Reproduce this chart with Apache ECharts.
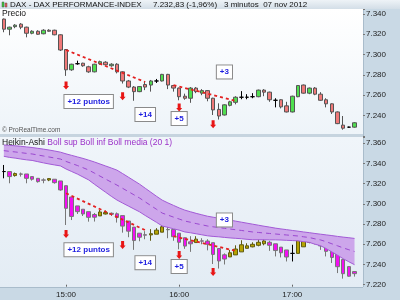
<!DOCTYPE html>
<html><head><meta charset="utf-8">
<script src="https://cdn.jsdelivr.net/npm/echarts@6/dist/echarts.min.js"></script>
<style>html,body{margin:0;padding:0;background:#fff}#c{width:400px;height:300px}</style>
</head><body><div id="c"></div><script>
const times = ['14:27','14:30','14:33','14:36','14:39','14:42','14:45','14:48','14:51','14:54','14:57','15:00','15:03','15:06','15:09','15:12','15:15','15:18','15:21','15:24','15:27','15:30','15:33','15:36','15:39','15:42','15:45','15:48','15:51','15:54','15:57','16:00','16:03','16:06','16:09','16:12','16:15','16:18','16:21','16:24','16:27','16:30','16:33','16:36','16:39','16:42','16:45','16:48','16:51','16:54','16:57','17:00','17:03','17:06','17:09','17:12','17:15','17:18','17:21','17:24','17:27','17:30','17:33','17:36'];

const priceOpen  = [7335,7325,7327.5,7330,7327,7321,7323,7320.5,7324,7324,7319.5,7305,7285,7291,7291.5,7288,7283,7291,7292.5,7289,7290.5,7283,7274,7268,7263.5,7270.5,7270,7274,7274,7280.5,7269.5,7267,7259,7257,7267,7262,7264.5,7257,7246,7240.5,7250,7253,7258,7258,7258.5,7258.5,7265,7263,7255,7255.5,7249.5,7243.5,7258.5,7270,7262,7267,7261,7255.5,7251.5,7243.5,7230.5,7228.5,7228.5];
const priceClose = [7325,7327,7329,7327,7321,7323,7320,7324,7323,7319.5,7304.5,7285,7290.5,7291,7289,7283,7290.5,7293,7290,7290.5,7283,7274,7268,7263.5,7268.5,7268,7274,7274,7280.5,7270,7267,7258.5,7257,7267,7263.5,7264.5,7257,7245.5,7239.5,7250.5,7253.5,7258,7258,7258,7258.5,7265,7263,7255.5,7255,7248.5,7243.5,7259,7269.5,7262,7267,7261,7255,7251.5,7243.5,7232,7227.5,7228.5,7232.83];
const priceLow   = [7322,7319,7326,7325,7317,7320,7319.5,7320,7322.5,7319,7303.5,7279,7284,7290,7288,7282,7282.5,7290,7289.5,7288,7281.5,7271.5,7267,7254.5,7263,7265,7263.5,7272,7273.5,7266,7263.5,7255,7255.5,7252.5,7262,7260,7254,7240.5,7236,7240,7249,7251,7256,7256,7257,7258,7259,7253.5,7248,7247,7243,7243,7258,7261.5,7261,7260,7254.5,7248,7241.5,7231.5,7226,7228,7228];
const priceHigh  = [7335.5,7327.5,7330,7331,7327.5,7324,7324,7325,7325,7324.5,7320,7305.5,7291,7294,7292,7289,7291,7294,7293.5,7291.5,7291.5,7283.5,7275,7269,7269,7273,7275,7276,7281,7281,7270,7267.5,7261.5,7268,7268,7266,7265,7257.5,7252,7251,7254.5,7259,7264,7261,7262,7265.5,7266,7263.5,7257,7256,7253.5,7259.5,7270,7270.5,7267.5,7268,7263,7257,7252,7244,7239.5,7229,7233.5];

const haOpen  = [7332,7332,7328,7329.6,7329.6,7327,7325.3,7323.7,7323.6,7324.4,7322.7,7318,7306.8,7298,7294.7,7292.3,7289.5,7288.1,7290,7290.7,7290.2,7288.4,7283,7277,7271,7269.5,7269.3,7270,7272,7274.7,7274.6,7271,7266.5,7262.4,7261.7,7263.4,7263.2,7261.6,7255.8,7249.6,7247.5,7249.5,7252.5,7256,7257.5,7259,7260.5,7262,7260.5,7257.2,7254.4,7251,7251,7257.5,7262,7263.1,7263.5,7261,7257,7252,7244.9,7237.9,7233];
const haClose = [7332,7327,7330,7329.4,7325.3,7324.4,7322,7323.5,7325,7321,7313.8,7295.6,7287.6,7292.3,7290,7286.7,7286.8,7292,7291.4,7289.8,7286.6,7278,7273,7263.7,7267,7269,7270.5,7274,7277.3,7274.4,7267.5,7262,7258.2,7260.5,7265.1,7263.1,7260,7250,7243.5,7245.4,7251.6,7255.3,7259.5,7258.5,7260,7262,7263.3,7259,7253.8,7251.6,7247.4,7251,7264,7266,7264.4,7264,7258.4,7253,7247,7237.8,7230.9,7228.4,7230.93];
const haLow   = [7325.3,7320.4,7327,7327,7320.4,7323,7321,7320.4,7322.5,7320,7313,7279.1,7284,7290,7288,7282.4,7282.5,7288.1,7289.5,7288,7281.5,7271.5,7267,7254.5,7263,7265,7263.5,7270,7272,7266,7263.5,7255,7255.5,7252.5,7261.7,7260,7254,7240.5,7236,7240,7247.5,7249.5,7252.5,7256,7257,7258,7259,7253.5,7248,7247,7243,7243,7251,7257.5,7261,7260,7254.5,7248,7241.5,7231.5,7226,7228,7228];
const haHigh  = [7338.5,7332,7331,7331,7329.6,7327,7325.3,7325.3,7325.5,7324.4,7322.7,7318,7306.8,7298,7294.7,7292.3,7291,7294,7293.5,7291.5,7291.5,7288.4,7283,7277,7271,7273,7275,7276,7281,7281,7274.6,7271,7266.5,7268,7268,7266,7265,7261.6,7255.8,7251,7254.5,7259,7264,7261,7262,7265.5,7266,7263.5,7260.5,7257.2,7254.4,7259.5,7270,7270.5,7267.5,7268,7263.5,7261,7257,7252,7244.9,7237.9,7233.5];

const bollUpper = [7358.3,7358,7357.5,7357,7356.4,7355.8,7355,7354.2,7353.3,7352.3,7351.2,7349.5,7348,7346.5,7345,7343.3,7341.5,7339.5,7337.5,7335.5,7333.4,7330,7326.5,7323,7319.5,7315.5,7311.5,7307.5,7303.7,7301,7298.5,7296,7293.8,7292.2,7290.6,7289.2,7287.8,7286.8,7285.8,7284.8,7283.9,7282.9,7281.9,7280.9,7279.9,7278.9,7277.9,7277,7276,7275.2,7274.5,7273.7,7273,7272.2,7271.5,7270.7,7270,7269.3,7268.6,7267.8,7267.1,7266.5,7265.8];
const bollMid   = [7352.7,7352,7351.4,7350.7,7350,7349.4,7348.4,7347.4,7346.4,7345.4,7344.4,7342,7340,7338,7335.8,7333.5,7330.5,7327.5,7324.5,7321.5,7318.6,7315.4,7312.2,7309,7305.8,7302,7298.3,7294.6,7290.9,7288.9,7286.9,7285,7283,7281.8,7280.5,7279.3,7278.1,7277.3,7276.6,7275.8,7275.1,7274.4,7273.7,7272.9,7272.2,7271.7,7271.2,7270.7,7270.2,7269.7,7269.2,7268.7,7268.2,7267.4,7266.7,7265.4,7264.3,7262.5,7260.5,7258.5,7256.4,7254.6,7252.8];
const bollLower = [7347.1,7346,7345.3,7344.4,7343.6,7343,7341.8,7340.6,7339.5,7338.5,7337.6,7334.5,7332,7329.5,7326.6,7323.7,7319.5,7315.5,7311.5,7307.5,7303.8,7300.8,7297.9,7295,7292.1,7288.5,7285.1,7281.7,7278.1,7276.8,7275.3,7274,7272.2,7271.4,7270.4,7269.4,7268.4,7267.8,7267.4,7266.8,7266.3,7265.9,7265.5,7264.9,7264.5,7264.5,7264.5,7264.4,7264.4,7264.2,7263.9,7263.7,7263.4,7262.6,7261.9,7260.1,7258.6,7255.7,7252.4,7249.2,7245.7,7242.7,7239.8];

const topLines = [[11,7304.5,25,7273],[30,7270,41,7254.3]];
const botLines = [[11,7310.5,25,7274],[30,7268,41,7253.5]];
const topArrows = [[11,7269.6],[21,7258.9],[31,7247.9],[37,7231.4]];
const botArrows = [[11,7270.2],[21,7259.3],[31,7249.4],[37,7232.6]];
const noteTexts = ['+12 puntos','+14','+5','+3'];
const topNotes = [[15,7253.8],[25,7241.0],[31,7237.0],[39,7282.9]];
const botNotes = [[15,7254.7],[25,7241.8],[31,7238.0],[39,7284.1]];

const F = '"Liberation Sans", Arial, sans-serif';
const euro = (v, d) => { const p = v.toFixed(d).split('.'); return p[0].slice(0,-3) + '.' + p[0].slice(-3) + (p[1] ? ',' + p[1] : ''); };
const ohlc = (o,c,l,h) => o.map((v,i) => [v, c[i], l[i], h[i]]);
const arrowPath = 'path://M2,0 L6,0 L6,5 L8,5 L4,9 L0,5 L2,5 Z';

function marks(lines, arrows, notes) {
  return {
    markLine: { silent: true, symbol: 'none', animation: false,
      data: lines.map(l => [{coord:[l[0], l[1]]}, {coord:[l[2], l[3]]}]),
      lineStyle: {color:'#e32020', width:1.8, type:[3,3]}, label:{show:false} },
    markPoint: { silent: true, animation: false,
      data: arrows.map(a => ({coord:a, symbol: arrowPath, symbolSize:[6,8], itemStyle:{color:'#e81515'}, label:{show:false}}))
        .concat(notes.map((n,k) => ({coord:n, symbol:'rect', symbolSize:1, itemStyle:{color:'rgba(0,0,0,0)'},
          label:{show:true, position:'inside', formatter: noteTexts[k], color:'#1f1fe0', fontWeight:'bold', fontSize:8, fontFamily:F,
            backgroundColor:'#fff', borderColor:'#8a8a8a', borderWidth:1, padding:[3,3,2,3]}})))
    }
  };
}

function tag(v, text, bg, fg, border, off) {
  return { yAxis: v, lineStyle:{opacity:0},
    label:{show:true, position:'end', distance:2, formatter:text, backgroundColor:bg, color:fg, borderColor:border, borderWidth: border ? 1 : 0,
      padding:[1,2,0,2], fontSize:8, fontFamily:F, offset:[0, off || 0]} };
}

const chart = echarts.init(document.getElementById('c'));
const tm = marks(topLines, topArrows, topNotes);
const bm = marks(botLines, botArrows, botNotes);
tm.markLine.data.push(tag(priceClose[62], euro(priceClose[62],2), '#f6d21c', '#111', null));
bm.markLine.data.push(tag(bollUpper[62], euro(bollUpper[62],1), '#fff', '#8a2fc6', '#a070d0'));
bm.markLine.data.push(tag(bollMid[62], euro(bollMid[62],1), '#fff', '#8a2fc6', '#a070d0'));
bm.markLine.data.push(tag(priceClose[62], euro(priceClose[62],2), '#f6d21c', '#111', null, -8));
bm.markLine.data.push(tag(haClose[62], euro(haClose[62],2), '#fff', '#111', '#999'));

const yLab = (show) => ({ fontSize:8, fontFamily:F, color:'#222', margin:3, formatter: v => (v % 20 === 0 && show(v)) ? (v/1000).toFixed(3) : '' });

chart.setOption({
  animation: false,
  graphic: [
    {type:'rect', z:-10, shape:{x:0,y:0,width:400,height:300}, style:{fill:'#c9d9e5'}},
    {type:'rect', z:-9, shape:{x:0,y:9,width:363,height:125}, style:{fill:new echarts.graphic.LinearGradient(0,0,0,1,[{offset:0,color:'#ffffff'},{offset:1,color:'#eef4f9'}])}},
    {type:'rect', z:-9, shape:{x:0,y:137,width:363,height:150}, style:{fill:new echarts.graphic.LinearGradient(0,0,0,1,[{offset:0,color:'#f0f5fa'},{offset:1,color:'#e3ecf4'}])}},
    {type:'rect', z:-8, shape:{x:0,y:134,width:363,height:3}, style:{fill:'#c6d4df'}},
    {type:'rect', z:-8, shape:{x:0,y:0,width:400,height:9}, style:{fill:new echarts.graphic.LinearGradient(0,0,0,1,[{offset:0,color:'#eef3f7'},{offset:1,color:'#d3dee7'}])}},
    {type:'line', z:-7, shape:{x1:363.5,y1:9,x2:363.5,y2:287}, style:{stroke:'#a9bccb', lineWidth:1}},
    {type:'line', z:-7, shape:{x1:0,y1:287.5,x2:363,y2:287.5}, style:{stroke:'#a9bccb', lineWidth:1}},
    {type:'rect', z:5, shape:{x:2,y:2,width:2,height:5}, style:{fill:'#3c3', stroke:'#555', lineWidth:0.5}},
    {type:'rect', z:5, shape:{x:5,y:3,width:2,height:4}, style:{fill:'#e55', stroke:'#555', lineWidth:0.5}},
    {type:'text', z:5, x:10, y:5, style:{text:'DAX - DAX PERFORMANCE-INDEX', font:'8px '+F, fill:'#111', verticalAlign:'middle'}},
    {type:'text', z:5, x:153, y:5, style:{text:euro(priceClose[62],2)+' (-1,96%)', font:'8px '+F, fill:'#111', verticalAlign:'middle'}},
    {type:'text', z:5, x:224, y:5, style:{text:'3 minutos  07 nov 2012', font:'8px '+F, fill:'#111', verticalAlign:'middle'}},
    {type:'text', z:5, x:2, y:14, style:{text:'Precio', font:'8.5px '+F, fill:'#111', verticalAlign:'middle'}},
    {type:'text', z:5, x:2, y:130.5, style:{text:'© ProRealTime.com', font:'6.5px '+F, fill:'#555', verticalAlign:'middle'}},
    {type:'text', z:5, x:2, y:143, style:{rich:{a:{fill:'#111', font:'8.5px '+F}, b:{fill:'#9b30c8', font:'8.5px '+F}}, text:'{a|Heikin-Ashi }{b|Boll sup Boll inf Boll media (20 1)}', verticalAlign:'middle'}}
  ],
  grid: [
    {left:1, right:37, top:8.9, height:126.9},
    {left:1, right:37, top:137.2, height:147.5}
  ],
  xAxis: [
    {type:'category', gridIndex:0, data:times, show:false, boundaryGap:true},
    {type:'category', gridIndex:1, data:times, boundaryGap:true,
      axisLine:{show:false},
      axisTick:{show:true, alignWithLabel:true, length:2, inside:false, interval:(i,v)=>v.endsWith(':00'), lineStyle:{color:'#666'}},
      axisLabel:{interval:(i,v)=>v.endsWith(':00'), fontSize:8, fontFamily:F, color:'#222', margin:6}}
  ],
  yAxis: [
    {type:'value', gridIndex:0, position:'right', min:7220, max:7345, interval:20, splitLine:{show:false},
      axisLine:{show:false}, axisTick:{show:true, length:2, lineStyle:{color:'#777'}}, axisLabel:yLab(v => v >= 7240)},
    {type:'value', gridIndex:1, position:'right', min:7220, max:7366, interval:20, splitLine:{show:false},
      axisLine:{show:false}, axisTick:{show:true, length:2, lineStyle:{color:'#777'}}, axisLabel:yLab(v => true)}
  ],
  series: [
    Object.assign({type:'candlestick', name:'Precio', xAxisIndex:0, yAxisIndex:0, barWidth:4,
      data: ohlc(priceOpen, priceClose, priceLow, priceHigh),
      itemStyle:{color:'#4fdf4f', color0:'#f07878', borderColor:'#555', borderColor0:'#555', borderColorDoji:'#000', borderWidth:1}}, tm),
    {type:'line', xAxisIndex:1, yAxisIndex:1, data:bollLower, stack:'boll', symbol:'none', lineStyle:{opacity:0}, silent:true},
    {type:'line', xAxisIndex:1, yAxisIndex:1, data:bollUpper.map((u,i)=>u-bollLower[i]), stack:'boll', symbol:'none', lineStyle:{opacity:0},
      areaStyle:{color:'#cda6eb', opacity:1}, silent:true},
    {type:'line', xAxisIndex:1, yAxisIndex:1, data:bollUpper, symbol:'none', lineStyle:{color:'#a25ad6', width:1}},
    {type:'line', xAxisIndex:1, yAxisIndex:1, data:bollLower, symbol:'none', lineStyle:{color:'#a25ad6', width:1}},
    {type:'line', xAxisIndex:1, yAxisIndex:1, data:bollMid, symbol:'none', lineStyle:{color:'#9a48d0', width:1, type:[5,4]}},
    Object.assign({type:'candlestick', name:'Heikin-Ashi', xAxisIndex:1, yAxisIndex:1, barWidth:4,
      data: ohlc(haOpen, haClose, haLow, haHigh),
      itemStyle:{color:'#b5a300', color0:'#f20ff2', borderColor:'#5e5a10', borderColor0:'#777', borderColorDoji:'#000', borderWidth:1}}, bm)
  ]
});
</script></body></html>
